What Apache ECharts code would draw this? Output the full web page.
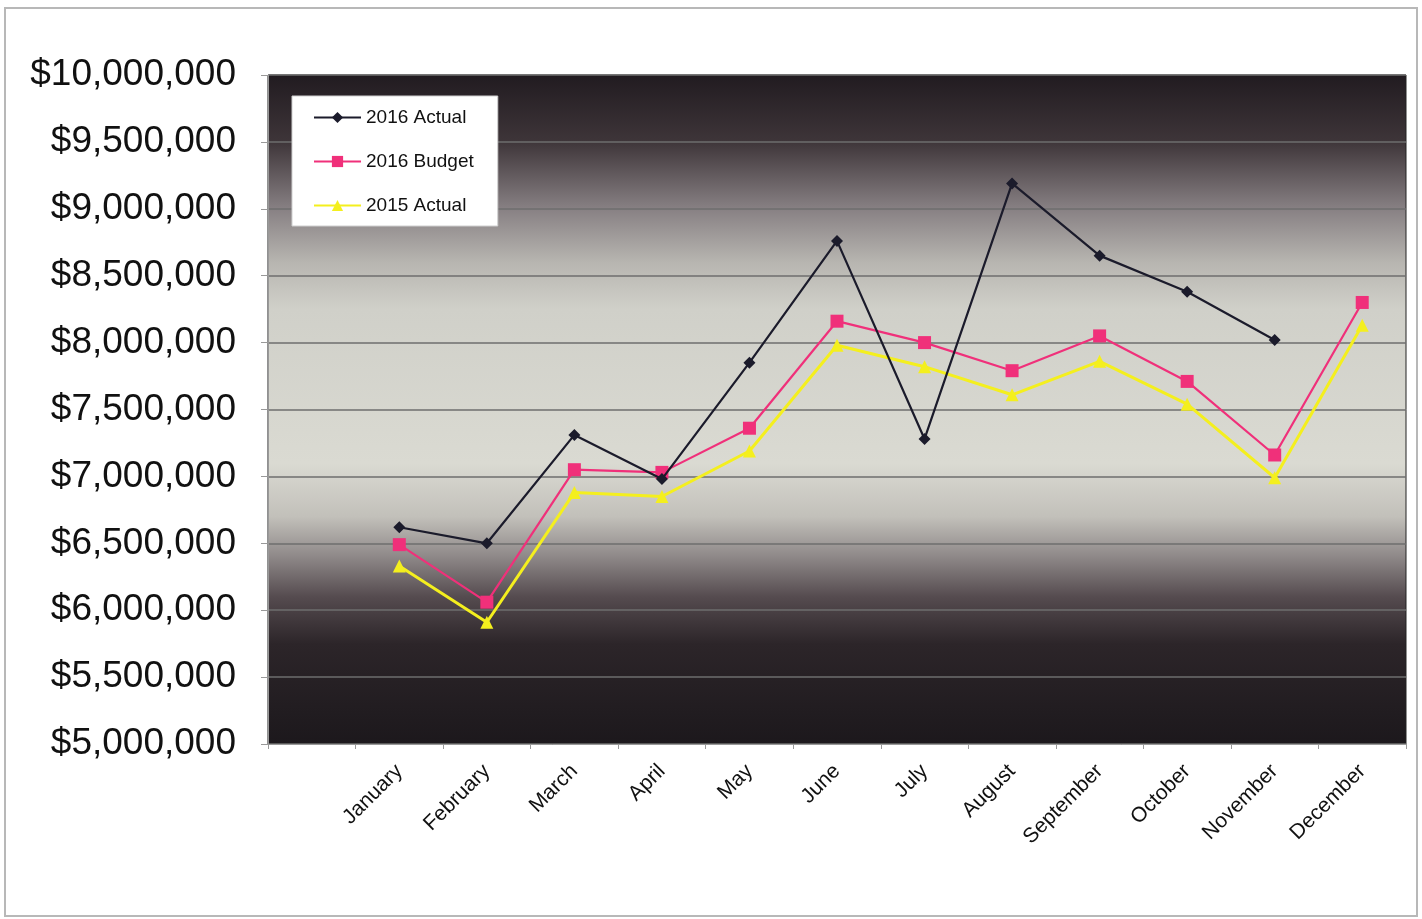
<!DOCTYPE html>
<html>
<head>
<meta charset="utf-8">
<title>2016 Actual vs Budget</title>
<script src="https://cdn.jsdelivr.net/npm/echarts@6/dist/echarts.min.js"></script>
<style>
  html, body { margin: 0; padding: 0; background: #fff; }
  #chart { width: 1422px; height: 919px; }
</style>
</head>
<body>
<div id="chart"></div>
<script>
// first slot is an empty band, as in the original sheet
var months = ['', 'January', 'February', 'March', 'April', 'May', 'June', 'July',
  'August', 'September', 'October', 'November', 'December'];

var actual2016 = [null, 6620000, 6500000, 7310000, 6980000, 7850000, 8760000, 7280000,
  9190000, 8650000, 8380000, 8020000, null];
var budget2016 = [null, 6490000, 6060000, 7050000, 7030000, 7360000, 8160000, 8000000,
  7790000, 8050000, 7710000, 7160000, 8300000];
var actual2015 = [null, 6330000, 5910000, 6880000, 6850000, 7190000, 7980000, 7820000,
  7610000, 7860000, 7540000, 6990000, 8130000];

var yTicks = { min: 5000000, max: 10000000, interval: 500000 };

var myChart = echarts.init(document.getElementById('chart'));

// dark top and bottom, pale band across the middle
var bg = new echarts.graphic.LinearGradient(0, 0, 0, 1, [
  { offset: 0, color: '#211b20' },
  { offset: 0.1, color: '#3e3539' },
  { offset: 0.2, color: '#878083' },
  { offset: 0.28, color: '#b7b5b0' },
  { offset: 0.35, color: '#d0d0c9' },
  { offset: 0.58, color: '#dadad2' },
  { offset: 0.66, color: '#c2c0ba' },
  { offset: 0.72, color: '#8e8888' },
  { offset: 0.78, color: '#554b4f' },
  { offset: 0.85, color: '#2c2529' },
  { offset: 1, color: '#1c181c' }
]);

var option = {
  animation: false,
  graphic: [{
    type: 'rect',
    shape: { x: 5, y: 8, width: 1412, height: 908 },
    style: { fill: 'none', stroke: '#b8b8b8', lineWidth: 2 },
    z: -10
  }],
  grid: {
    left: 268,
    right: 16,
    top: 75,
    bottom: 175,
    show: true,
    backgroundColor: bg,
    borderColor: '#222',
    borderWidth: 1
  },
  legend: {
    orient: 'vertical',
    left: 292,
    top: 96,
    backgroundColor: '#fff',
    borderColor: '#cfcfcf',
    borderWidth: 1,
    padding: [12, 24, 11, 21],
    itemGap: 25,
    itemWidth: 47,
    itemHeight: 14,
    textStyle: { fontFamily: 'Liberation Sans', fontSize: 19, color: '#111' },
    data: ['2016 Actual', '2016 Budget', '2015 Actual']
  },
  xAxis: {
    type: 'category',
    data: months,
    boundaryGap: true,
    axisLine: { show: true, lineStyle: { color: '#999', width: 1 } },
    axisTick: { show: true, interval: 0, length: 5, lineStyle: { color: '#999' } },
    axisLabel: {
      interval: 0,
      rotate: 45,
      margin: 24,
      fontFamily: 'Liberation Sans',
      fontSize: 21,
      color: '#111'
    },
    splitLine: { show: false }
  },
  yAxis: {
    type: 'value',
    min: yTicks.min,
    max: yTicks.max,
    interval: yTicks.interval,
    axisLine: { show: true, lineStyle: { color: '#999' } },
    axisTick: { show: true, length: 7, lineStyle: { color: '#999' } },
    axisLabel: {
      margin: 32,
      fontFamily: 'Liberation Sans',
      fontSize: 37,
      color: '#111',
      formatter: function (v) {
        return '$' + v.toLocaleString('en-US');
      }
    },
    splitLine: { show: true, lineStyle: { color: '#6e6e6e', width: 1.5 } }
  },
  series: [
    {
      name: '2016 Actual',
      type: 'line',
      data: actual2016,
      symbol: 'diamond',
      symbolSize: 12,
      color: '#1b1b2b',
      lineStyle: { width: 2.2, color: '#1b1b2b' },
      itemStyle: { color: '#1b1b2b' },
      z: 5
    },
    {
      name: '2016 Budget',
      type: 'line',
      data: budget2016,
      symbol: 'rect',
      symbolSize: 13,
      color: '#f0307a',
      lineStyle: { width: 2.2, color: '#f0307a' },
      itemStyle: { color: '#f0307a' },
      z: 4
    },
    {
      name: '2015 Actual',
      type: 'line',
      data: actual2015,
      symbol: 'triangle',
      symbolSize: 13,
      color: '#f4ef1e',
      lineStyle: { width: 3, color: '#f4ef1e' },
      itemStyle: { color: '#f4ef1e' },
      z: 3
    }
  ]
};

myChart.setOption(option);
</script>
</body>
</html>
